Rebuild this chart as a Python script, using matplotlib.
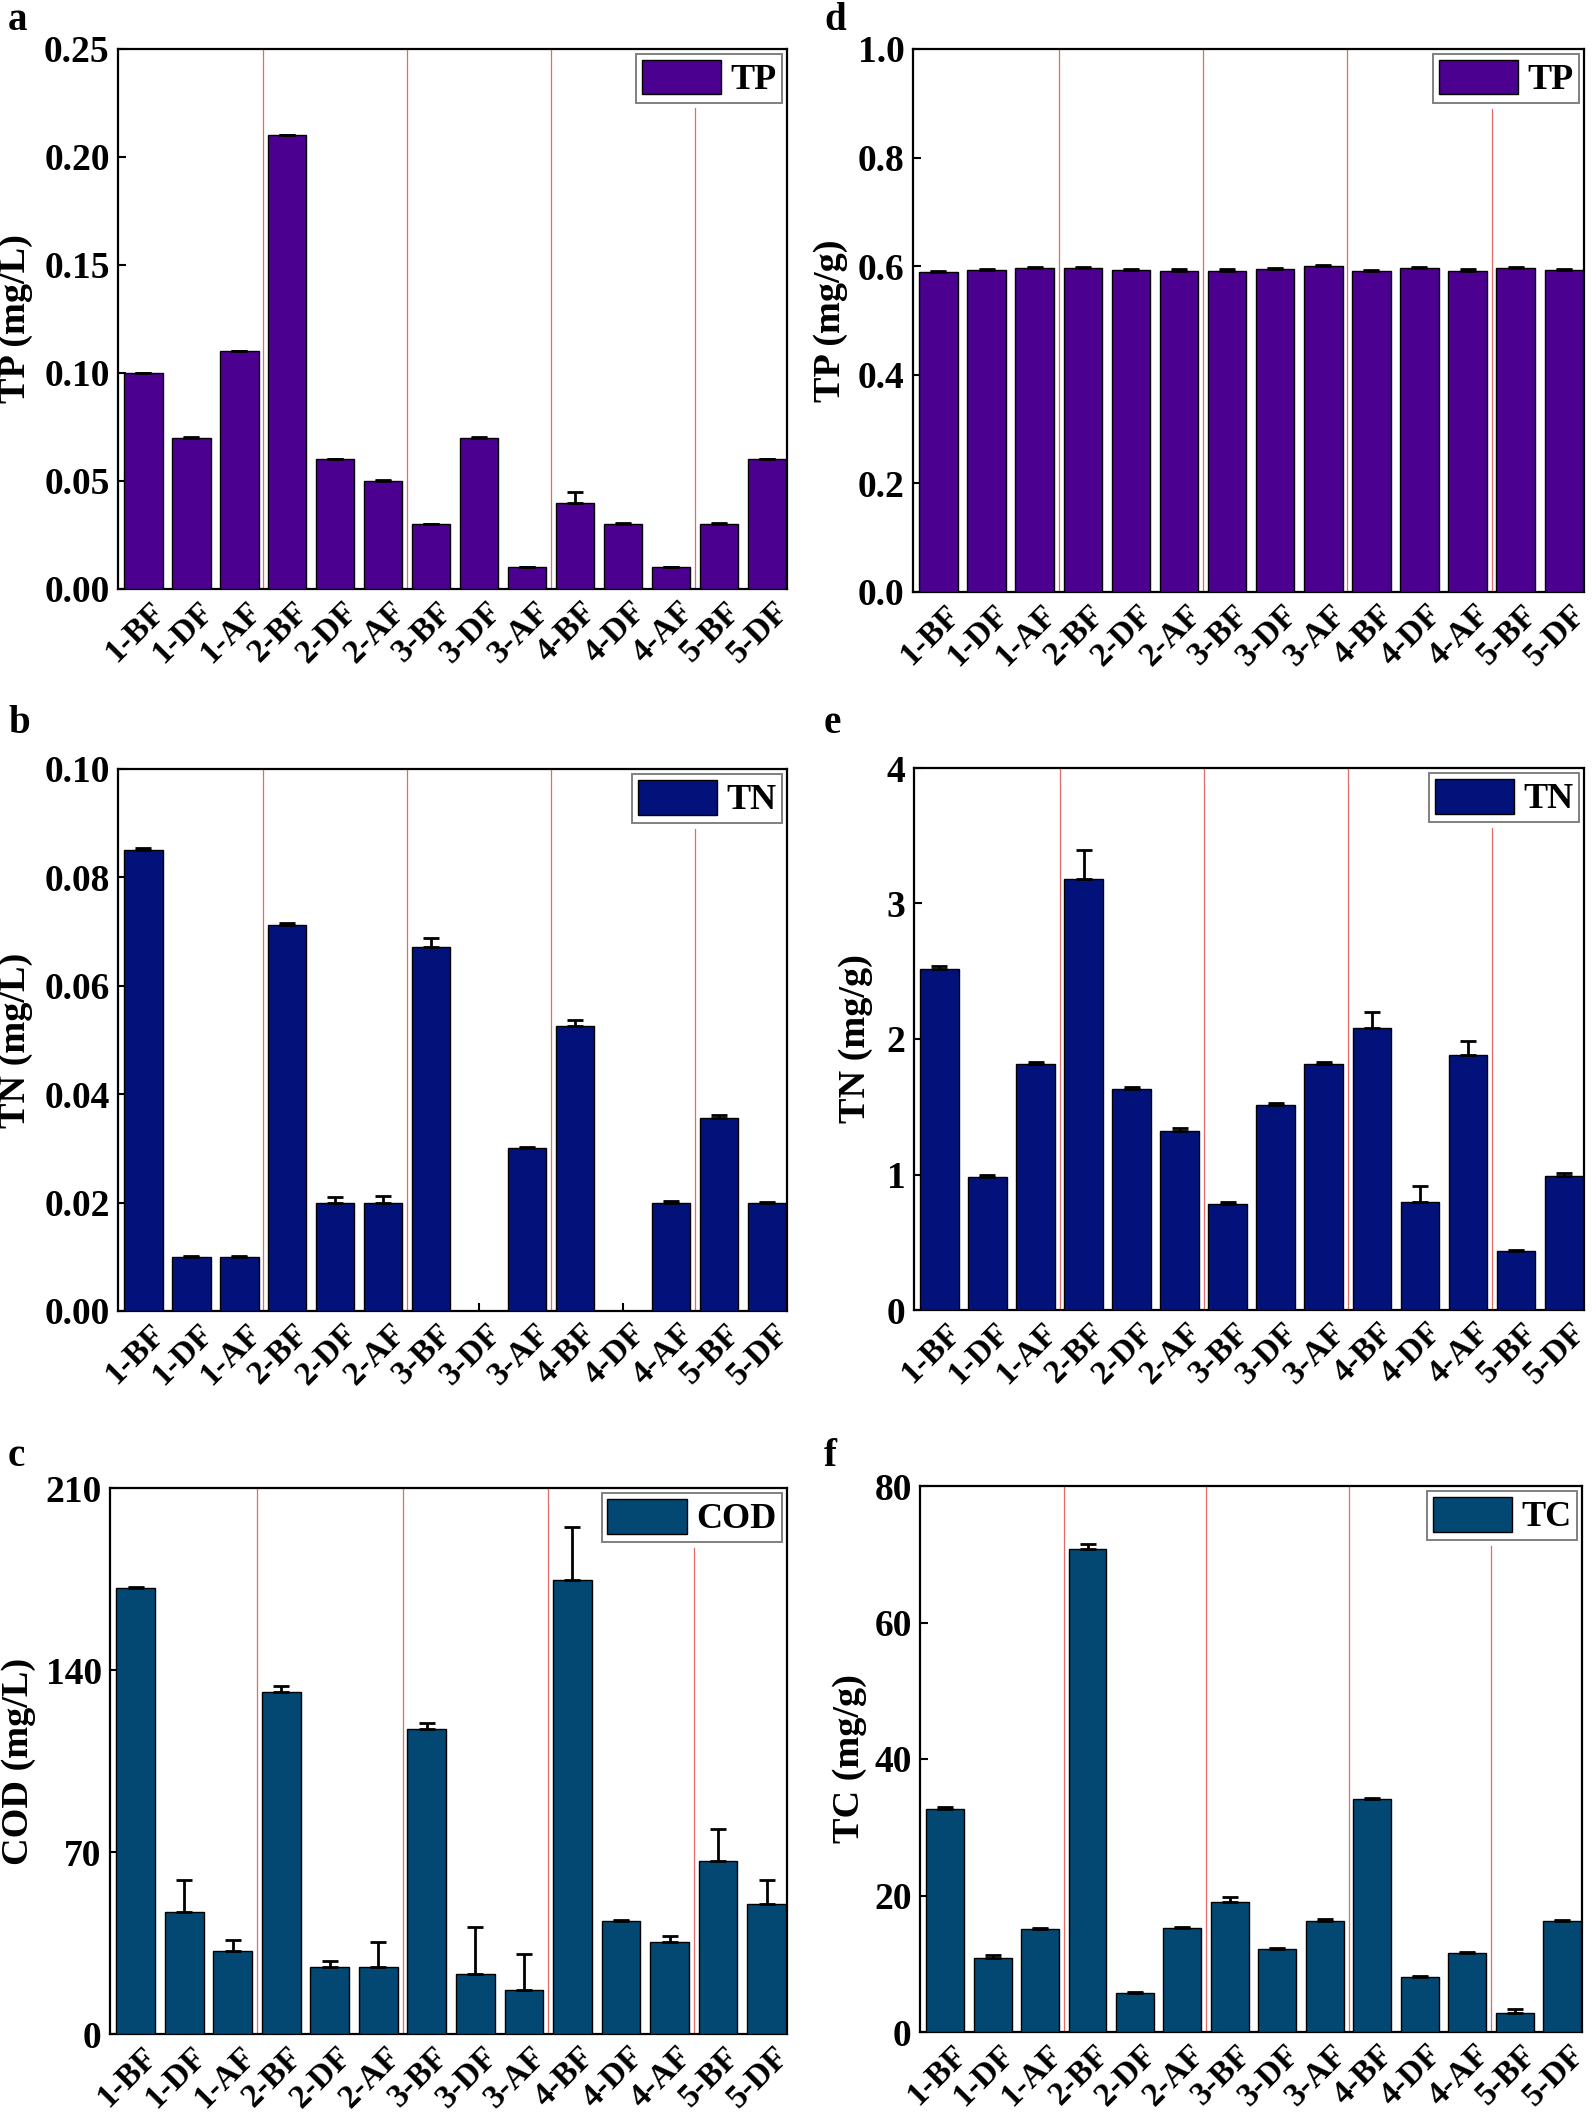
import matplotlib
matplotlib.use('Agg')
import matplotlib.pyplot as plt
import matplotlib.transforms as mtransforms
import numpy as np

plt.rcParams['font.family'] = ['Liberation Serif', 'DejaVu Serif']
plt.rcParams['font.weight'] = 'bold'

samples = ['1-BF', '1-DF', '1-AF', '2-BF', '2-DF', '2-AF', '3-BF',
           '3-DF', '3-AF', '4-BF', '4-DF', '4-AF', '5-BF', '5-DF']

# water (mg/L)
tp_water = [0.100, 0.070, 0.110, 0.210, 0.060, 0.050, 0.030,
            0.070, 0.010, 0.040, 0.030, 0.010, 0.030, 0.060]
tp_water_err = [0, 0.0004, 0.0004, 0, 0.0004, 0.0004, 0,
                0.0004, 0, 0.005, 0.0004, 0, 0.0005, 0.0004]
tn_water = [0.085, 0.010, 0.010, 0.0712, 0.020, 0.020, 0.0672,
            0.0, 0.030, 0.0526, 0.0, 0.020, 0.0357, 0.020]
tn_water_err = [0.0004, 0.0002, 0.0002, 0.0004, 0.001, 0.0012, 0.0016,
                0, 0.0002, 0.001, 0, 0.0003, 0.0005, 0.0001]
cod_water = [171.4, 47.1, 32.1, 131.6, 25.6, 25.6, 117.5,
             23.1, 16.8, 174.7, 43.3, 35.4, 66.6, 50.1]
cod_water_err = [0.5, 12.3, 4.0, 2.3, 2.3, 9.8, 2.3,
                 18.2, 14.0, 20.3, 0.7, 2.3, 12.1, 9.0]

# sediment (mg/g)
tp_sed = [0.590, 0.593, 0.596, 0.596, 0.593, 0.592, 0.592,
          0.594, 0.601, 0.591, 0.596, 0.592, 0.596, 0.593]
tp_sed_err = [0.002] * 14
tn_sed = [2.515, 0.981, 1.817, 3.184, 1.633, 1.320, 0.780,
          1.514, 1.817, 2.084, 0.800, 1.883, 0.438, 0.991]
tn_sed_err = [0.025, 0.013, 0.016, 0.21, 0.01, 0.02, 0.02,
              0.01, 0.01, 0.115, 0.118, 0.105, 0.008, 0.02]
tc_sed = [32.7, 10.9, 15.1, 70.8, 5.7, 15.3, 19.1,
          12.2, 16.2, 34.1, 8.0, 11.6, 2.8, 16.2]
tc_sed_err = [0.2, 0.4, 0.15, 0.7, 0.15, 0.15, 0.7,
              0.15, 0.4, 0.15, 0.15, 0.15, 0.5, 0.15]

c_tp = '#4B0090'
c_tn = '#03127A'
c_co = '#024872'

W, H = 1594, 2123
fig = plt.figure(figsize=(W / 100, H / 100), dpi=100)
shift_left = mtransforms.ScaledTranslation(-6 / 72, 0, fig.dpi_scale_trans)


def add_ax(l, r, t, b):
    return fig.add_axes([l / W, 1 - b / H, (r - l) / W, (b - t) / H])


def draw_panel(ax, vals, errs, color, name, ylabel, ylim, yticks, fmt, label_x):
    x = np.arange(len(samples))
    ax.bar(x, vals, width=0.8, color=color, edgecolor='black', linewidth=1,
           yerr=[np.zeros(len(errs)), errs], capsize=6, label=name,
           error_kw=dict(elinewidth=2, capthick=2, ecolor='black'), zorder=3)
    # group separators
    for xs in [2.5, 5.5, 8.5]:
        ax.axvline(xs, color='#E66A6A', lw=0.9, zorder=1)
    ax.axvline(11.5, ymax=0.89, color='#E66A6A', lw=0.9, zorder=1)

    ax.set_xlim(-0.53, 13.42)
    ax.set_ylim(*ylim)
    ax.set_yticks(yticks)
    ax.set_yticklabels([fmt % v for v in yticks])
    ax.set_xticks(x)
    ax.set_xticklabels(samples)
    ax.tick_params(axis='both', direction='in', length=6, width=1.5)
    ax.tick_params(axis='x', pad=5, labelsize=24)
    ax.tick_params(axis='y', pad=6, labelsize=27)
    for lab in ax.get_xticklabels():
        lab.set_rotation(45)
        lab.set_ha('center')
        lab.set_va('top')
        lab.set_transform(lab.get_transform() + shift_left)
    for sp in ax.spines.values():
        sp.set_linewidth(1.6)
    ax.set_ylabel(ylabel, fontsize=27.5, fontweight='bold')
    ax.yaxis.set_label_coords(label_x, 0.5)
    leg = ax.legend(loc='upper right', fontsize=26, fancybox=False,
                    framealpha=1, edgecolor='#808080', handlelength=2.2,
                    handleheight=1.1, borderpad=0.15, handletextpad=0.25,
                    borderaxespad=0.15)
    leg.get_frame().set_linewidth(1.4)


ax_a = add_ax(118, 787, 49, 589)
draw_panel(ax_a, tp_water, tp_water_err, c_tp, 'TP', 'TP (mg/L)',
           (0, 0.25), np.arange(0, 0.26, 0.05), '%.2f', -0.127)

ax_b = add_ax(118, 787, 769, 1311)
draw_panel(ax_b, tn_water, tn_water_err, c_tn, 'TN', 'TN (mg/L)',
           (0, 0.10), np.arange(0, 0.101, 0.02), '%.2f', -0.127)

ax_c = add_ax(110, 787, 1488, 2034)
draw_panel(ax_c, cod_water, cod_water_err, c_co, 'COD', 'COD (mg/L)',
           (0, 210), [0, 70, 140, 210], '%d', -0.109)

ax_d = add_ax(913, 1584, 49, 592)
draw_panel(ax_d, tp_sed, tp_sed_err, c_tp, 'TP', 'TP (mg/g)',
           (0, 1.0), np.arange(0, 1.01, 0.2), '%.1f', -0.097)

ax_e = add_ax(914, 1584, 768, 1310)
draw_panel(ax_e, tn_sed, tn_sed_err, c_tn, 'TN', 'TN (mg/g)',
           (0, 4), [0, 1, 2, 3, 4], '%d', -0.061)

ax_f = add_ax(920, 1582, 1486, 2032)
draw_panel(ax_f, tc_sed, tc_sed_err, c_co, 'TC', 'TC (mg/g)',
           (0, 80), [0, 20, 40, 60, 80], '%d', -0.08)

# panel letters
for letter, px, py in [('a', 8, 20), ('b', 8, 724), ('c', 8, 1456),
                       ('d', 824, 20), ('e', 824, 724), ('f', 824, 1456)]:
    fig.text(px / W, 1 - py / H, letter, fontsize=28, fontweight='bold',
             ha='left', va='center')

fig.savefig('out.png', dpi=100)
